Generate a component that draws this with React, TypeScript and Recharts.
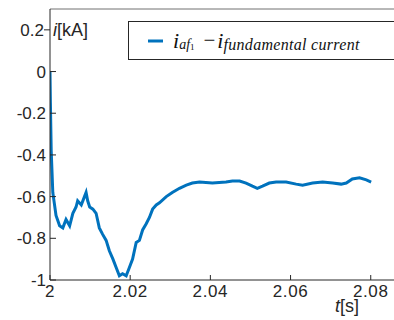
import { LineChart, Line, XAxis, YAxis, Legend, ReferenceLine, Label } from 'recharts'

// time axis [s]
const tValues = [
  2.0, 2.0001, 2.0003, 2.0007, 2.0015, 2.0024, 2.0032, 2.004, 2.0049, 2.0057,
  2.0065, 2.0069, 2.0078, 2.0086, 2.009, 2.0094, 2.0099, 2.0107, 2.0115, 2.0123,
  2.0131, 2.014, 2.0148, 2.0157, 2.0165, 2.0173, 2.0181, 2.019, 2.0198, 2.0206,
  2.0215, 2.0223, 2.0231, 2.024, 2.0248, 2.0256, 2.0265, 2.0273, 2.029, 2.0305,
  2.0323, 2.034, 2.0355, 2.0373, 2.0405, 2.0439, 2.0455, 2.0473, 2.0489, 2.0505,
  2.0517, 2.053, 2.0547, 2.0564, 2.0589, 2.0614, 2.063, 2.0655, 2.068, 2.0705,
  2.0726, 2.0739, 2.0754, 2.0772, 2.0789, 2.0801,
]

// i_af1 - i_fundamental [kA]
const iValues = [
  0, -0.15, -0.38, -0.58, -0.69, -0.74, -0.75, -0.71, -0.74, -0.68,
  -0.65, -0.62, -0.64, -0.6, -0.58, -0.62, -0.65, -0.66, -0.68, -0.75,
  -0.78, -0.81, -0.86, -0.9, -0.94, -0.98, -0.97, -0.98, -0.94, -0.9,
  -0.82, -0.81, -0.76, -0.73, -0.7, -0.66, -0.64, -0.63, -0.6, -0.58,
  -0.56, -0.545, -0.535, -0.53, -0.535, -0.53, -0.525, -0.525, -0.535, -0.55,
  -0.56, -0.55, -0.535, -0.53, -0.53, -0.54, -0.545, -0.535, -0.53, -0.535,
  -0.54, -0.535, -0.515, -0.51, -0.52, -0.53,
]

const xTicks = [2, 2.02, 2.04, 2.06, 2.08]
const yTicks = [0.2, 0, -0.2, -0.4, -0.6, -0.8, -1]

const data = tValues.map((t, k) => ({ t, i: iValues[k] }))

const axisColor = '#262626'
const lineColor = '#0072BD'
const sans = '"Liberation Sans", Arial, sans-serif'
const serif = '"Liberation Serif", "Times New Roman", serif'

const XTick = ({ x, y, payload }: any) => (
  <g>
    <line x1={x} x2={x} y1={y} y2={y - 5} stroke={axisColor} />
    <text x={x} y={y + 17} textAnchor="middle" fill={axisColor} fontSize={17} letterSpacing={0.6} fontFamily={sans}>
      {String(payload.value)}
    </text>
  </g>
)

const YTick = ({ x, y, payload }: any) => {
  const top = payload.value === 0.2
  return (
    <g>
      <line x1={top ? x - 6 : x} x2={top ? x : x + 6} y1={y} y2={y} stroke={axisColor} />
      <text x={top ? x - 6 : x - 4} y={y + 6} textAnchor="end" fill={axisColor} fontSize={17} fontFamily={sans}>
        {String(payload.value)}
      </text>
    </g>
  )
}

const YLabel = ({ viewBox }: any) => (
  <text x={viewBox.x + viewBox.width + 3} y={viewBox.y + 27} fill={axisColor} fontSize={18} fontFamily={sans}>
    <tspan fontStyle="italic">i</tspan>[kA]
  </text>
)

const XLabel = ({ viewBox }: any) => (
  <text x={viewBox.x + viewBox.width - 59} y={viewBox.y + 32} fill={axisColor} fontSize={18} fontFamily={sans}>
    <tspan fontStyle="italic">t</tspan>[s]
  </text>
)

const LegendBox = () => (
  <div
    style={{
      height: 37,
      borderTop: `1px solid ${axisColor}`,
      borderBottom: `1px solid ${axisColor}`,
      borderLeft: `1px solid ${axisColor}`,
      background: '#fff',
      display: 'flex',
      alignItems: 'center',
      fontFamily: serif,
      fontStyle: 'italic',
      color: '#111',
      whiteSpace: 'nowrap',
    }}
  >
    <svg width={30} height={10} style={{ marginLeft: 18 }}>
      <line x1={1} x2={16} y1={5} y2={5} stroke={lineColor} strokeWidth={3} />
    </svg>
    <span style={{ fontSize: 22, marginLeft: -4 }}>i</span>
    <span style={{ fontSize: 14, position: 'relative', top: 4 }}>af</span>
    <span style={{ fontSize: 9, position: 'relative', top: 6, fontStyle: 'normal' }}>1</span>
    <span style={{ fontSize: 21, fontStyle: 'normal', marginLeft: 9 }}>−</span>
    <span style={{ fontSize: 22, marginLeft: 2 }}>i</span>
    <span style={{ fontSize: 16, position: 'relative', top: 4, letterSpacing: 0.3 }}>fundamental current</span>
  </div>
)

export default function App() {
  return (
    <div style={{ position: 'absolute', left: 0, top: 0, width: 394, height: 320, background: '#fff' }}>
      <LineChart width={394} height={320} data={data} margin={{ top: 9, right: 0, bottom: 0, left: 0 }}>
        <XAxis
          dataKey="t"
          type="number"
          domain={[2, 2.0858]}
          ticks={xTicks}
          allowDataOverflow
          height={40}
          tickSize={0}
          tickMargin={0}
          tickLine={false}
          axisLine={{ stroke: axisColor }}
          tick={XTick}
        >
          <Label content={XLabel} />
        </XAxis>
        <YAxis
          type="number"
          domain={[-1, 0.3]}
          ticks={yTicks}
          allowDataOverflow
          width={50}
          tickSize={0}
          tickMargin={0}
          tickLine={false}
          axisLine={{ stroke: axisColor }}
          tick={YTick}
        >
          <Label content={YLabel} />
        </YAxis>
        <ReferenceLine y={0.3} stroke="#707070" ifOverflow="extendDomain" />
        <Line
          type="linear"
          dataKey="i"
          stroke={lineColor}
          strokeWidth={3}
          dot={false}
          isAnimationActive={false}
        />
        <Legend
          layout="horizontal"
          verticalAlign="middle"
          content={LegendBox}
          wrapperStyle={{ left: 128, top: 21, width: 270 }}
        />
      </LineChart>
    </div>
  )
}
